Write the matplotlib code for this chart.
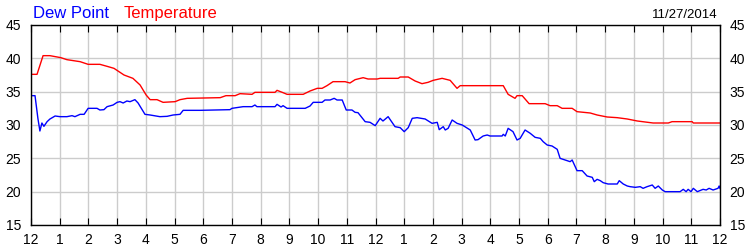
"""Dew point and temperature over one day (11/27/2014)."""

import matplotlib

matplotlib.use("Agg")
import matplotlib.pyplot as plt

plt.rcParams["font.family"] = ["Liberation Sans", "DejaVu Sans"]

# hours since midnight, degrees F
temp_hours = [
    0.00, 0.21, 0.42, 0.66, 1.04, 1.25, 1.71, 1.99, 2.40, 2.65, 2.89, 3.24,
    3.55, 3.80, 4.01, 4.15, 4.39, 4.60, 5.02, 5.19, 5.44, 6.59, 6.79, 7.11,
    7.28, 7.70, 7.80, 8.50, 8.57, 8.75, 8.92, 9.48, 9.72, 9.97, 10.14, 10.31,
    10.52, 10.94, 11.11, 11.29, 11.57, 11.74, 12.06, 12.16, 12.79, 12.86,
    13.14, 13.38, 13.62, 13.83, 14.01, 14.32, 14.60, 14.84, 14.95, 16.45,
    16.62, 16.86, 16.93, 17.11, 17.35, 17.91, 18.08, 18.33, 18.50, 18.85,
    19.02, 19.48, 19.72, 20.07, 20.42, 20.77, 21.12, 21.67, 22.20, 22.33,
    23.03, 23.07, 24.00,
]
temperature = [
    37.6, 37.6, 40.4, 40.4, 40.1, 39.8, 39.5, 39.1, 39.1, 38.8, 38.5, 37.5,
    37.0, 36.0, 34.5, 33.8, 33.8, 33.4, 33.5, 33.8, 34.0, 34.1, 34.4, 34.4,
    34.7, 34.6, 34.9, 34.9, 35.2, 34.9, 34.6, 34.6, 35.1, 35.5, 35.5, 35.9,
    36.5, 36.5, 36.3, 36.8, 37.1, 36.9, 36.9, 37.0, 37.0, 37.2,
    37.2, 36.6, 36.2, 36.4, 36.7, 37.0, 36.7, 35.5, 35.9, 35.9,
    34.6, 34.0, 34.4, 34.4, 33.2, 33.2, 32.9, 32.9, 32.5, 32.5,
    32.0, 31.8, 31.5, 31.2, 31.1, 30.9, 30.6, 30.3, 30.3, 30.5,
    30.5, 30.3, 30.3,
]

dew_hours = [
    0.00, 0.14, 0.24, 0.31, 0.38, 0.45, 0.56, 0.66, 0.84, 1.01, 1.25, 1.43,
    1.53, 1.71, 1.85, 1.99, 2.30, 2.40, 2.54, 2.65, 2.86, 3.00, 3.10, 3.21,
    3.34, 3.45, 3.62, 3.73, 3.87, 3.97, 4.15, 4.49, 4.74, 4.95, 5.19, 5.30,
    5.89, 6.93, 7.00, 7.39, 7.70, 7.80, 7.87, 8.50, 8.57, 8.71, 8.78, 8.92,
    9.55, 9.72, 9.83, 10.14, 10.24, 10.42, 10.56, 10.66, 10.84, 10.98,
    11.18, 11.29, 11.39, 11.64, 11.81, 11.99, 12.16, 12.26, 12.44, 12.68,
    12.86, 13.00, 13.14, 13.28, 13.45, 13.73, 13.97, 14.15, 14.22, 14.36,
    14.43, 14.53, 14.67, 14.84, 15.02, 15.30, 15.47, 15.57, 15.75, 15.89,
    15.99, 16.41, 16.45, 16.52, 16.62, 16.79, 16.93, 17.04, 17.21, 17.39,
    17.56, 17.74, 17.84, 17.98, 18.15, 18.33, 18.43, 18.61, 18.78, 18.85,
    19.02, 19.20, 19.37, 19.55, 19.62, 19.72, 19.83, 19.93, 20.10, 20.42,
    20.49, 20.63, 20.77, 20.87, 21.05, 21.22, 21.32, 21.46, 21.64, 21.74,
    21.85, 21.99, 22.09, 22.61, 22.72, 22.82, 22.89, 22.99, 23.07, 23.21,
    23.41, 23.52, 23.62, 23.76, 23.93, 23.97, 24.00,
]
dew_point = [
    34.4, 34.4, 31.0, 29.1, 30.3, 29.8, 30.5, 30.9, 31.35, 31.25, 31.25, 31.4,
    31.25, 31.6, 31.6, 32.5, 32.5, 32.25, 32.3, 32.75, 33.0, 33.4, 33.5, 33.3,
    33.6, 33.5, 33.8, 33.3, 32.3, 31.6, 31.5, 31.25, 31.3, 31.5, 31.6, 32.2,
    32.2, 32.3, 32.5, 32.75, 32.75, 33.0, 32.75, 32.75, 33.1, 32.7, 32.9, 32.5,
    32.5, 32.85, 33.4, 33.4, 33.75, 33.75, 34.0, 33.75, 33.75, 32.25,
    32.25, 31.9, 31.85, 30.5, 30.4, 29.9, 31.0, 30.6, 31.25, 29.75,
    29.6, 29.0, 29.6, 31.0, 31.1, 30.9, 30.25, 30.4, 29.3, 29.75,
    29.25, 29.5, 30.75, 30.25, 30.0, 29.25, 27.75, 27.8, 28.35, 28.5,
    28.35, 28.35, 28.6, 28.35, 29.5, 29.0, 27.75, 28.0, 29.25, 28.75,
    28.15, 28.0, 27.5, 27.0, 26.85, 26.35, 25.0, 24.75, 24.5, 24.75,
    23.15, 23.15, 22.35, 22.15, 21.5, 21.85, 21.65, 21.35, 21.15, 21.15,
    21.65, 21.15, 20.85, 20.75, 20.65, 20.75, 20.5, 20.75, 21.0, 20.5,
    20.85, 20.25, 20.0, 20.0, 20.35, 20.0, 20.35, 20.0, 20.5, 20.0,
    20.35, 20.25, 20.5, 20.25, 20.5, 20.85, 20.5,
]

hour_ticks = list(range(25))
hour_labels = [str((h - 1) % 12 + 1) for h in hour_ticks]
y_ticks = [15, 20, 25, 30, 35, 40, 45]

fig = plt.figure(figsize=(7.5, 2.5), dpi=100)
ax = fig.add_axes([31 / 750, 25 / 250, 689 / 750, 200 / 250])

ax.plot(temp_hours, temperature, color="#ff0000", linewidth=1.0)
ax.plot(dew_hours, dew_point, color="#0000ff", linewidth=1.0)

ax.set_xlim(0, 24)
ax.set_ylim(15, 45)
ax.set_xticks(hour_ticks)
ax.set_xticklabels(hour_labels)
ax.set_yticks(y_ticks)
ax.grid(color="#cccccc", linewidth=1.0)
ax.set_axisbelow(True)

ax.tick_params(axis="x", direction="in", length=5, top=True, bottom=True,
               labelsize=10, pad=6, color="black")
ax.tick_params(axis="y", length=0, left=True, right=True, labelleft=True,
               labelright=True, labelsize=10, pad=7)
for spine in ax.spines.values():
    spine.set_color("black")
    spine.set_linewidth(1.0)

fig.text(33 / 750, 1 - 18 / 250, "Dew Point", color="#0000ff", fontsize=12,
         ha="left", va="baseline")
fig.text(124 / 750, 1 - 18 / 250, "Temperature", color="#ff0000", fontsize=12,
         ha="left", va="baseline")
fig.text(718 / 750, 1 - 18 / 250, "11/27/2014", color="black", fontsize=9.5,
         ha="right", va="baseline")

fig.savefig("out.png", dpi=100)
plt.close(fig)
